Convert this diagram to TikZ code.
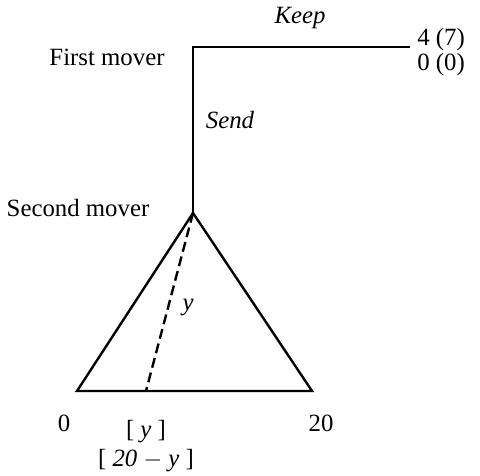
\documentclass[tikz,border=0pt,12pt]{standalone}
\usepackage{fontspec}
\setmainfont{Liberation Serif}
\tikzset{
  label text/.style={font=\fontsize{12.4}{12.4}\selectfont,inner sep=1pt},
  move text/.style={label text,font=\fontsize{12.4}{12.4}\selectfont\itshape}
}
\begin{document}
\begin{tikzpicture}[x=0.5pt,y=-0.5pt,line width=1.2pt]
\useasboundingbox (0,0) rectangle (480,475);
% tree points
\coordinate (first) at (193,47);
\coordinate (keepend) at (410,47);
\coordinate (second) at (193,213);
\coordinate (left) at (77,391);
\coordinate (right) at (312,391);
\coordinate (cut) at (146,391);
\draw (keepend) -- (first) -- (second);
\draw[line join=miter] (second) -- (left) -- (right) -- cycle;
\draw[dash pattern=on 5pt off 2.5pt] (second) -- (cut);
% labels
\node (keep) [move text] at (300,18) {Keep};
\node (send) [move text] at (230,120) {Send};
\node (fmover) [label text] at (107,57) {First mover};
\node (smover) [label text] at (78,208) {Second mover};
\node (pay) [label text,align=left] at (441,52) {4 (7)\\0 (0)};
\node (share) [move text] at (188,307) {y};
\node (zero) [label text] at (64,423) {0};
\node (twenty) [label text] at (321,423) {20};
\node (pay1) [label text,inner sep=0pt] at (146,432) {[ \textit{y} ]};
\node (pay2) [label text,inner sep=0pt] at (146,461) {[ \textit{20} $-$ \textit{y} ]};
\end{tikzpicture}
\end{document}
